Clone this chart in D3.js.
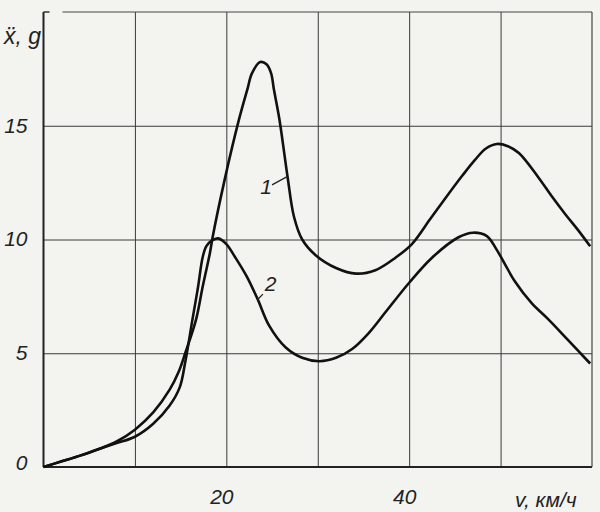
<!DOCTYPE html>
<html>
<head>
<meta charset="utf-8">
<title>Acceleration vs speed</title>
<script src="https://d3js.org/d3.v7.min.js"></script>
<style>
  body { margin: 0; background: #f3f3f0; }
  svg { display: block; }
  .grid line { stroke: #3a3a3a; stroke-width: 1; }
  .grid path { display: none; }
  .lbl { font-family: "Liberation Sans Narrow", "Liberation Sans", "DejaVu Sans", sans-serif;
         font-style: italic; font-size: 21px; fill: #222; }
  .curve { fill: none; stroke: #111; stroke-width: 2.6; stroke-linejoin: round; }
</style>
</head>
<body>
<div id="chart"></div>
<script>
// speed, km/h and acceleration, g
var v1 = [0, 2, 4, 6, 8, 10, 12, 13.8, 14.8, 15.5, 16.7, 17.4, 18.2, 18.5, 19.8, 21.4, 22.3, 22.8, 23.7, 24.4, 24.9, 25.2, 25.8, 26.7, 27.4, 28.3, 29.8, 32, 34.2, 36.3, 38.5, 40.3, 42.3, 44.3, 45.8, 47.2, 48.4, 49.6, 50.8, 52, 54.1, 55.6, 57.1, 58.5, 59.8];
var a1 = [0, 0.25, 0.5, 0.78, 1.12, 1.64, 2.4, 3.4, 4.2, 5.0, 6.5, 7.9, 9.4, 10.1, 12.6, 15.3, 16.6, 17.3, 17.8, 17.7, 17.3, 16.6, 15.3, 12.75, 11.0, 10.0, 9.3, 8.75, 8.5, 8.65, 9.2, 9.8, 10.9, 12.0, 12.8, 13.5, 14.0, 14.2, 14.1, 13.8, 12.75, 11.9, 11.1, 10.4, 9.7];

var v2 = [0, 2, 4, 6, 8, 10, 12, 13.8, 14.9, 15.5, 16.3, 16.9, 17.4, 17.8, 18.4, 19.1, 20, 21, 22.2, 23.4, 24.7, 26.5, 28.3, 30.2, 32, 33.8, 35.6, 37.4, 40, 42.5, 45.4, 47, 48.5, 49.5, 50.5, 51.5, 53.4, 55.2, 57.1, 58.5, 59.8];
var a2 = [0, 0.25, 0.5, 0.78, 1.05, 1.33, 1.9, 2.7, 3.5, 4.6, 6.5, 7.9, 9.2, 9.7, 9.95, 10.05, 9.8, 9.2, 8.4, 7.4, 6.2, 5.25, 4.8, 4.65, 4.8, 5.2, 5.9, 6.8, 8.1, 9.2, 10.1, 10.3, 10.15, 9.6, 8.9, 8.2, 7.2, 6.5, 5.7, 5.1, 4.55];

var yTicks = [0, 5, 10, 15];
var xGrid = [10, 20, 30, 40, 50];
var xLabels = [20, 40];

var margin = { top: 12, right: 8, bottom: 45, left: 43.5 };
var width = 600 - margin.left - margin.right;
var height = 512 - margin.top - margin.bottom;

var svg = d3.select("#chart").append("svg")
    .attr("width", 600).attr("height", 512);
var g = svg.append("g")
    .attr("transform", "translate(" + margin.left + "," + margin.top + ")");

var x = d3.scaleLinear().domain([0, 60]).range([0, width]);
var y = d3.scaleLinear().domain([0, 20]).range([height, 0]);

// horizontal grid + y labels
var ya = g.append("g").attr("class", "grid")
    .call(d3.axisLeft(y).tickValues(yTicks).tickSize(-width).tickPadding(16));
ya.selectAll("text").attr("class", "lbl").attr("dy", "0.3em");
ya.selectAll(".tick").filter(function (d) { return d === 0; })
    .select("text").attr("dy", "0.1em");

// vertical grid + x labels
var xa = g.append("g").attr("class", "grid")
    .attr("transform", "translate(0," + height + ")")
    .call(d3.axisBottom(x).tickValues(xGrid).tickSize(-height).tickPadding(22)
        .tickFormat(function (d) { return xLabels.indexOf(d) >= 0 ? d : ""; }));
xa.selectAll("text").attr("class", "lbl").attr("dx", "-5");

// frame
g.append("line").attr("x1", 0).attr("x2", 0).attr("y1", 0).attr("y2", height)
    .attr("stroke", "#222").attr("stroke-width", 2);
g.append("line").attr("x1", 0).attr("x2", width).attr("y1", height).attr("y2", height)
    .attr("stroke", "#222").attr("stroke-width", 2);
g.append("line").attr("x1", width).attr("x2", width).attr("y1", 0).attr("y2", height)
    .attr("stroke", "#444").attr("stroke-width", 1.2);
g.append("line").attr("x1", 0).attr("x2", 6).attr("y1", 0).attr("y2", 0)
    .attr("stroke", "#333").attr("stroke-width", 1.5);
g.append("line").attr("x1", 19).attr("x2", width).attr("y1", 0).attr("y2", 0)
    .attr("stroke", "#444").attr("stroke-width", 1.2);

// curves
var line = d3.line().curve(d3.curveCatmullRom.alpha(0.5));
g.append("path").attr("class", "curve")
    .attr("d", line(v1.map(function (d, i) { return [x(d), y(a1[i])]; })));
g.append("path").attr("class", "curve")
    .attr("d", line(v2.map(function (d, i) { return [x(d), y(a2[i])]; })));

// curve labels with leaders
g.append("text").attr("class", "lbl").attr("x", x(23.7)).attr("y", y(12.0)).text("1");
g.append("line").attr("x1", x(25.0)).attr("y1", y(12.4)).attr("x2", x(26.6)).attr("y2", y(12.75))
    .attr("stroke", "#222").attr("stroke-width", 1.3);
g.append("text").attr("class", "lbl").attr("x", x(24.2)).attr("y", y(7.75)).text("2");
g.append("line").attr("x1", x(24.0)).attr("y1", y(7.6)).attr("x2", x(23.4)).attr("y2", y(7.35))
    .attr("stroke", "#222").attr("stroke-width", 1.3);

// axis titles
svg.append("text").attr("class", "lbl").style("font-size", "23px")
    .attr("x", 4).attr("y", 44).text("ẍ, g");
svg.append("text").attr("class", "lbl").attr("x", 515).attr("y", 507).text("v, км/ч");
</script>
</body>
</html>
